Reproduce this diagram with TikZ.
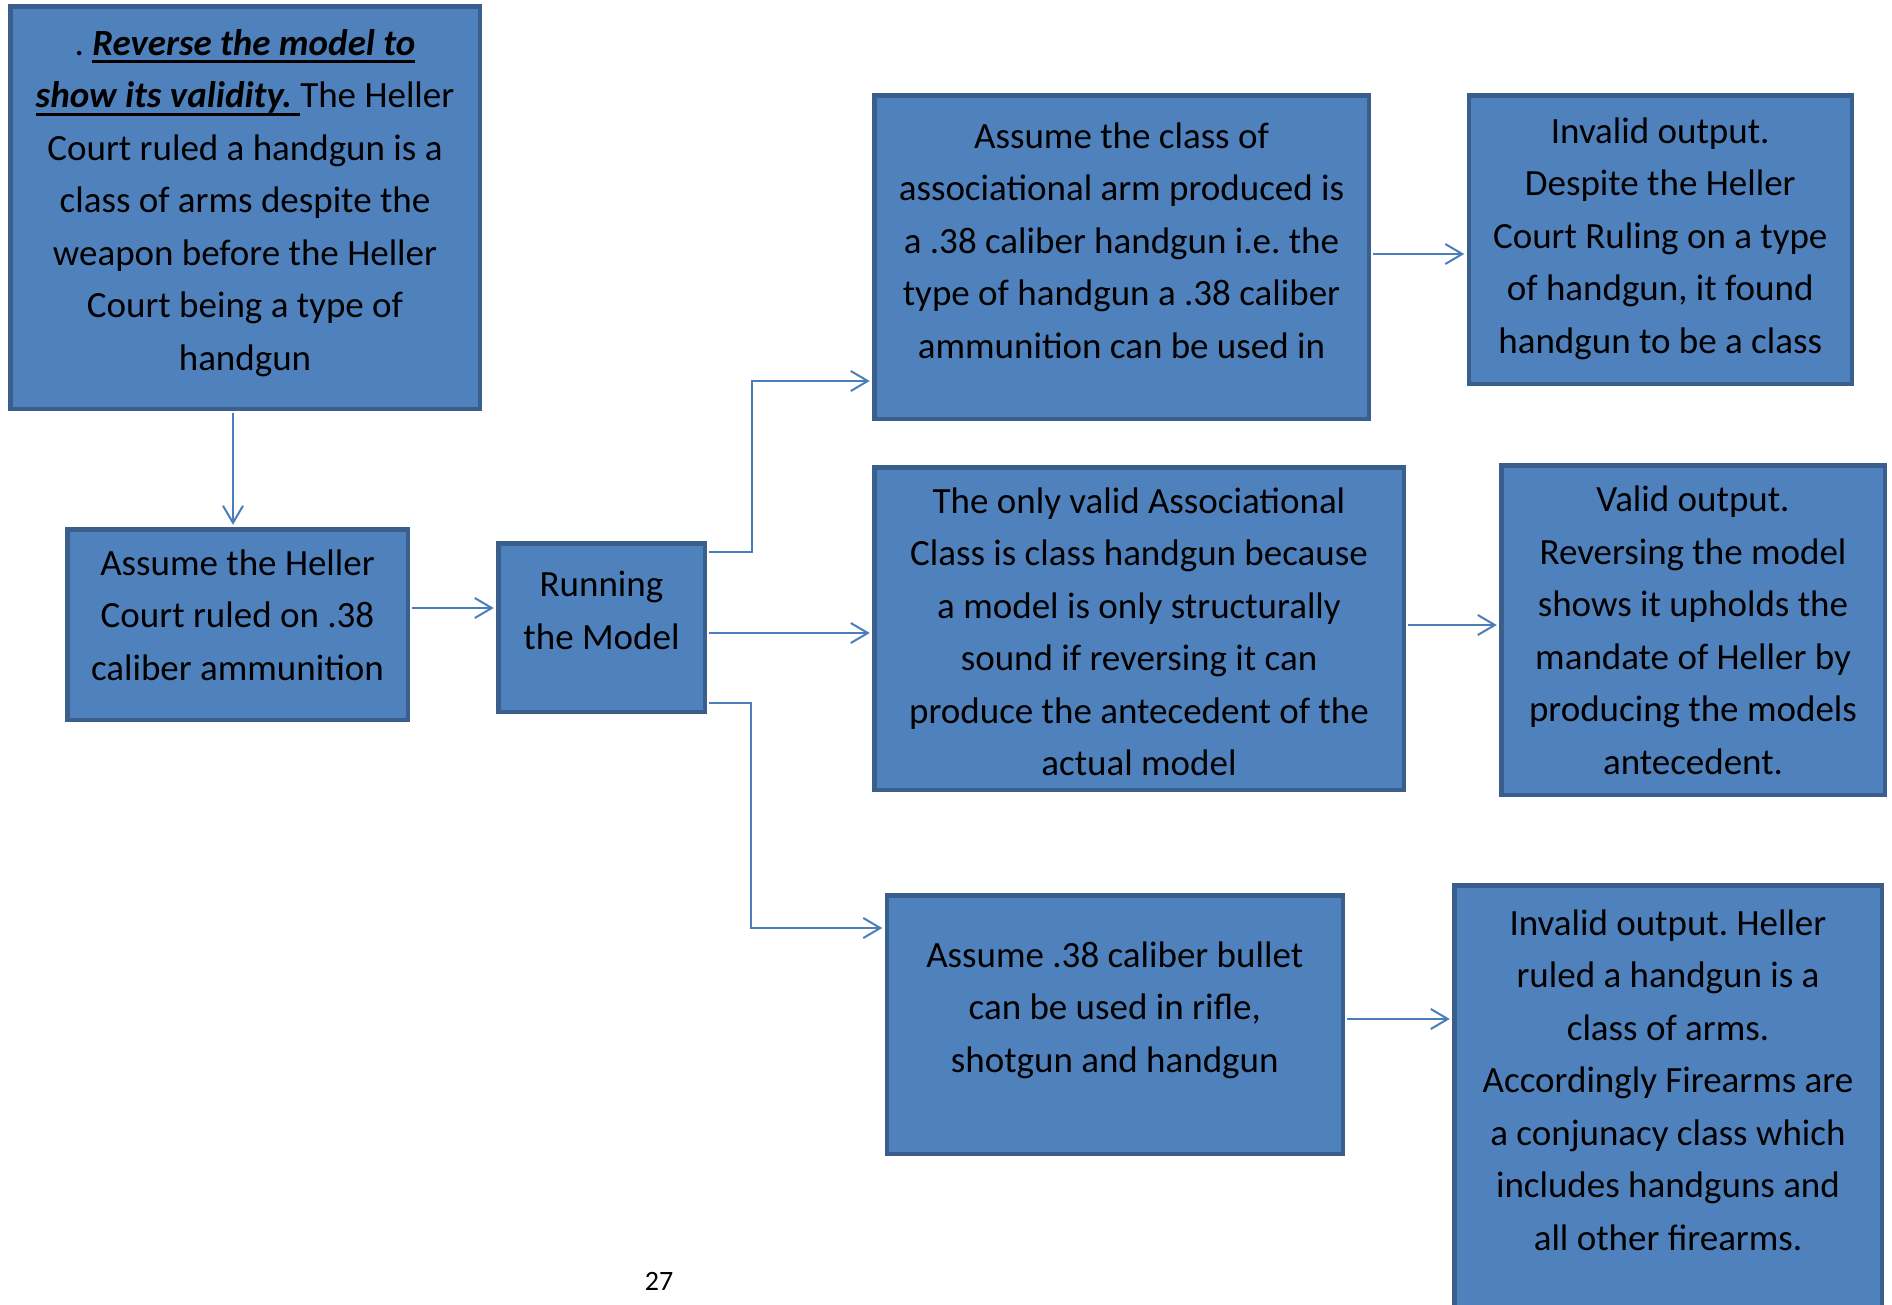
\documentclass[tikz,border=0pt]{standalone}
\usepackage{fontspec}
\setmainfont{Carlito}
\usetikzlibrary{arrows.meta}
\definecolor{boxfill}{HTML}{4F81BD}
\definecolor{boxline}{HTML}{3A5F8C}
\definecolor{conncol}{HTML}{4A7EBB}
\newsavebox\myulbox
\newcommand\myul[1]{\sbox\myulbox{#1}\rlap{\vrule width\wd\myulbox height -5pt depth 8pt}\usebox\myulbox}
\frenchspacing
\begin{document}
\begin{tikzpicture}[x=1pt,y=-1pt,
  box/.style={draw=boxline, fill=boxfill, line width=4.5pt, rectangle, inner sep=0pt},
  txt/.style={align=center, inner sep=0pt, font=\fontsize{37}{52.5}\selectfont},
  conn/.style={draw=conncol, line width=2pt, shorten >=2.25pt, shorten <=2.25pt,
    -{Straight Barb[length=17pt,width=20pt,line width=2pt]}}]
\path[use as bounding box] (0,0) rectangle (1892,1304);
\clip (0,0) rectangle (1892,1304);

% boxes
\node[box, minimum width=469.5pt, minimum height=402.5pt] (b1) at (245,207.5) {};
\node[box, minimum width=340.5pt, minimum height=190.5pt] (b2) at (237.5,624.5) {};
\node[box, minimum width=206.5pt, minimum height=168.5pt] (run) at (601.5,627.5) {};
\node[box, minimum width=494.5pt, minimum height=323.5pt] (b4) at (1121.5,257) {};
\node[box, minimum width=383pt, minimum height=288.5pt] (b5) at (1660.25,239.5) {};
\node[box, minimum width=529.5pt, minimum height=322.5pt] (b6) at (1139,628.5) {};
\node[box, minimum width=383.5pt, minimum height=329.5pt] (b7) at (1693,630) {};
\node[box, minimum width=456pt, minimum height=258.5pt] (b8) at (1114.75,1024.5) {};
\node[box, minimum width=427.5pt, minimum height=432.5pt] (b9) at (1668,1101.5) {};

% texts
\node[txt] (t1) at (245,202) {\strut. \myul{\textbf{\textit{Reverse the model to}}}\\
  \myul{\textbf{\textit{show its validity.\ }}}The Heller\\
  Court ruled a handgun is a\\
  class of arms despite the\\
  weapon before the Heller\\
  Court being a type of\\
  handgun\strut};
\node[txt] (t2) at (237.5,617) {\strut Assume the Heller\\Court ruled on .38\\caliber ammunition\strut};
\node[txt] (t3) at (601.5,612.7) {\strut Running\\the Model\strut};
\node[txt] (t4) at (1121.5,242.5) {\strut Assume the class of\\associational arm produced is\\a .38 caliber handgun i.e. the\\type of handgun a .38 caliber\\ammunition can be used in\strut};
\node[txt] (t5) at (1660.25,237.5) {\strut Invalid output.\\Despite the Heller\\Court Ruling on a type\\of handgun, it found\\handgun to be a class\strut};
\node[txt] (t6) at (1139,633.75) {\strut The only valid Associational\\Class is class handgun because\\a model is only structurally\\sound if reversing it can\\produce the antecedent of the\\actual model\strut};
\node[txt] (t7) at (1693,632.4) {\strut Valid output.\\Reversing the model\\shows it upholds the\\mandate of Heller by\\producing the models\\antecedent.\strut};
\node[txt] (t8) at (1114.75,1009) {\strut Assume .38 caliber bullet\\can be used in rifle,\\shotgun and handgun\strut};
\node[txt] (t9) at (1668,1082) {\strut Invalid output. Heller\\ruled a handgun is a\\class of arms.\\Accordingly Firearms are\\a conjunacy class which\\includes handguns and\\all other firearms.\strut};

\node[inner sep=0pt, font=\fontsize{28}{34}\selectfont] (pg) at (659,1281) {27};

% connectors
\coordinate (k1) at (233,0);
\draw[conn] (b1.south -| k1) -- (b2.north -| k1);
\coordinate (k2) at (0,608);
\draw[conn] (b2.east |- k2) -- (run.west |- k2);
\coordinate (k3) at (0,552);
\coordinate (k3b) at (752,381);
\draw[conn] (run.east |- k3) -| (k3b) -- (b4.west |- k3b);
\coordinate (k4) at (0,633);
\draw[conn] (run.east |- k4) -- (b6.west |- k4);
\coordinate (k5) at (0,702.7);
\coordinate (k5b) at (751,928);
\draw[conn] (run.east |- k5) -| (k5b) -- (b8.west |- k5b);
\coordinate (k6) at (0,254);
\draw[conn] (b4.east |- k6) -- (b5.west |- k6);
\coordinate (k7) at (0,625);
\draw[conn] (b6.east |- k7) -- (b7.west |- k7);
\coordinate (k8) at (0,1019);
\draw[conn] (b8.east |- k8) -- (b9.west |- k8);
\end{tikzpicture}
\end{document}
